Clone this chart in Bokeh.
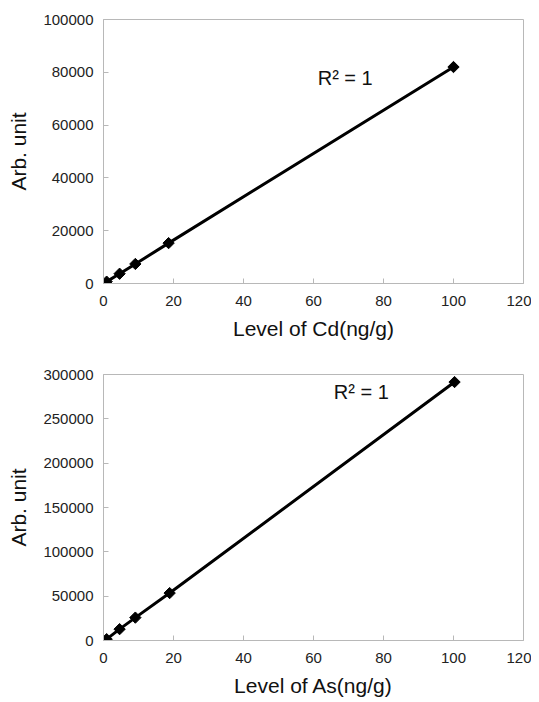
import math
from bokeh.plotting import figure
from bokeh.layouts import column
from bokeh.models import FixedTicker, BasicTickFormatter, Range1d, Label
from bokeh.embed import file_html
from bokeh.resources import INLINE

# Cd calibration
cd_x = [0.9, 4.6, 9.1, 18.6, 100]
cd_y = [700, 3700, 7400, 15300, 82000]
# As calibration
as_x = [0.9, 4.6, 9.1, 18.9, 100.3]
as_y = [1500, 12800, 25800, 53500, 291500]

x_ticks = [0, 20, 40, 60, 80, 100, 120]
cd_y_ticks = [0, 20000, 40000, 60000, 80000, 100000]
as_y_ticks = [0, 50000, 100000, 150000, 200000, 250000, 300000]

FONT = "Liberation Sans"
GRID = "#b8b8b8"


def make(xs, ys, yticks, ymax, xlabel, r2x, r2y, height, btop, bbottom):
    p = figure(width=531, height=height, output_backend="svg", toolbar_location=None,
               x_range=Range1d(0, 120), y_range=Range1d(0, ymax),
               min_border_left=103, min_border_right=8,
               min_border_top=btop, min_border_bottom=bbottom)
    p.xgrid.visible = False
    p.ygrid.visible = False
    p.outline_line_color = GRID
    p.outline_line_width = 1
    p.xaxis.ticker = FixedTicker(ticks=x_ticks)
    p.yaxis.ticker = FixedTicker(ticks=yticks)
    p.yaxis.formatter = BasicTickFormatter(use_scientific=False)
    for ax in (p.xaxis, p.yaxis):
        ax.axis_line_color = GRID
        ax.major_tick_line_color = GRID
        ax.major_tick_in = 5
        ax.major_tick_out = 0
        ax.minor_tick_line_color = None
        ax.major_label_text_font = FONT
        ax.major_label_text_font_size = "15px"
        ax.major_label_text_color = "#222222"
        ax.axis_label_text_font = FONT
        ax.axis_label_text_font_size = "21px"
        ax.axis_label_text_font_style = "normal"
        ax.axis_label_text_color = "#111111"
    p.xaxis.major_label_standoff = 12
    p.yaxis.major_label_standoff = 10
    p.xaxis.axis_label_standoff = 8
    p.yaxis.axis_label_standoff = 10
    p.xaxis.axis_label = xlabel
    p.yaxis.axis_label = "Arb. unit"
    p.line(xs, ys, line_color="black", line_width=3)
    p.scatter(xs, ys, marker="square", size=8, angle=math.pi / 4,
              fill_color="black", line_color="black")
    p.add_layout(Label(x=r2x, y=r2y, text="R² = 1", text_font=FONT,
                       text_font_size="20px", text_color="#111111"))
    return p


p1 = make(cd_x, cd_y, cd_y_ticks, 100000, "Level of Cd(ng/g)", 61.2, 73800, 348, 19, 65)
p2 = make(as_x, as_y, as_y_ticks, 300000, "Level of As(ng/g)", 65.8, 268000, 352, 26, 60)

layout = column(p1, p2, spacing=0)
open("out.html", "w").write(file_html(layout, INLINE))
